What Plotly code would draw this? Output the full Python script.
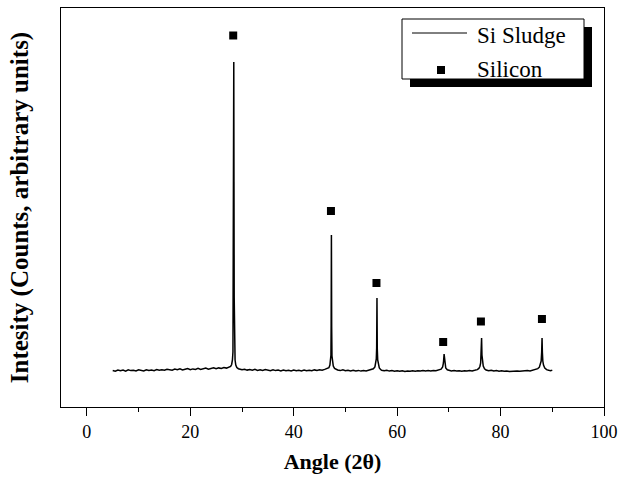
import plotly.graph_objects as go

# ---------------- data ----------------
angle = [
    5.0, 5.5, 6.0, 6.5, 7.0, 7.5, 8.0, 8.5, 9.0, 9.5, 10.0, 10.5, 11.0, 11.5, 12.0, 12.5,
    13.0, 13.5, 14.0, 14.5, 15.0, 15.5, 16.0, 16.5, 17.0, 17.5, 18.0, 18.5, 19.0, 19.5,
    20.0, 20.5, 21.0, 21.5, 22.0, 22.5, 23.0, 23.5, 24.0, 24.5, 25.0, 25.5, 26.0, 26.5,
    27.0, 27.5, 27.8,
    28.0, 28.15, 28.25, 28.3, 28.34, 28.37, 28.41, 28.45, 28.49, 28.56, 28.66, 28.8, 29.0, 29.3,
    29.5, 30.0, 30.5, 31.0, 31.5, 32.0, 32.5, 33.0, 33.5, 34.0, 34.5, 35.0, 35.5, 36.0,
    36.5, 37.0, 37.5, 38.0, 38.5, 39.0, 39.5, 40.0, 40.5, 41.0, 41.5, 42.0, 42.5, 43.0,
    43.5, 44.0, 44.5, 45.0, 45.5, 46.0, 46.5, 46.8,
    47.0, 47.12, 47.2, 47.24, 47.29, 47.34, 47.4, 47.5, 47.65, 47.9, 48.2,
    48.5, 49.0, 49.5, 50.0, 50.5, 51.0, 51.5, 52.0, 52.5, 53.0, 53.5, 54.0, 54.5, 55.0,
    55.4, 55.7,
    55.85, 55.97, 56.04, 56.1, 56.16, 56.24, 56.35, 56.55, 56.8,
    57.0, 57.5, 58.0, 58.5, 59.0, 59.5, 60.0, 60.5, 61.0, 61.5, 62.0, 62.5, 63.0, 63.5,
    64.0, 64.5, 65.0, 65.5, 66.0, 66.5, 67.0, 67.5, 68.0, 68.5,
    68.8, 68.95, 69.08, 69.15, 69.25, 69.4, 69.7,
    70.0, 70.5, 71.0, 71.5, 72.0, 72.5, 73.0, 73.5, 74.0, 74.5, 75.0, 75.5, 75.8,
    76.0, 76.15, 76.25, 76.33, 76.4, 76.5, 76.65, 76.9,
    77.2, 77.7, 78.2, 78.7, 79.2, 79.7, 80.2, 80.7, 81.2, 81.7, 82.2, 82.7, 83.2, 83.7,
    84.2, 84.7, 85.2, 85.7, 86.2, 86.7, 87.2, 87.5,
    87.7, 87.85, 87.95, 88.02, 88.08, 88.17, 88.3, 88.55, 88.9,
    89.3, 89.7, 90.0,
]
intensity = [
    36.5, 35.8, 37.0, 36.2, 36.9, 35.9, 37.1, 36.4, 36.8, 36.0, 37.2, 36.5, 36.1, 37.3, 36.6, 37.0,
    36.3, 37.4, 36.8, 37.2, 36.7, 37.8, 37.0, 36.8, 37.9, 37.3, 38.2, 37.0, 37.7, 38.4,
    37.3, 38.1, 37.6, 38.7, 37.6, 38.4, 39.0, 37.9, 38.6, 39.3, 38.2, 39.1, 38.5, 39.5,
    38.9, 39.7, 40.6,
    42.5, 47.0, 55.0, 120.0, 172.0, 227.0, 345.0, 225.0, 110.0, 57.0, 47.0, 42.0, 39.5, 38.3,
    37.9, 37.2, 37.8, 36.9, 37.5, 36.8, 37.6, 36.6, 37.3, 36.5, 37.4, 36.7, 36.2, 37.1,
    36.4, 36.9, 36.1, 37.0, 36.3, 36.8, 36.0, 36.9, 36.2, 36.7, 36.1, 37.0, 36.3, 36.8,
    36.2, 37.1, 36.5, 37.2, 36.8, 37.6, 38.2, 39.3,
    42.0, 47.0, 52.0, 82.0, 172.0, 80.0, 51.0, 45.0, 41.0, 38.6, 37.5,
    37.0, 36.4, 37.1, 36.2, 36.8, 36.0, 36.7, 36.1, 36.6, 35.9, 36.5, 36.0, 36.8, 37.1,
    38.2, 40.0,
    43.0, 48.0, 59.0, 109.0, 58.0, 47.0, 42.0, 39.0, 37.5,
    36.8, 36.2, 36.7, 35.9, 36.4, 35.8, 36.3, 35.7, 36.2, 35.6, 36.1, 35.7, 36.2, 35.8,
    36.3, 35.9, 36.4, 36.0, 36.5, 36.1, 36.6, 36.3, 36.9, 37.8,
    40.0, 44.0, 53.0, 48.0, 42.0, 39.0, 37.2,
    36.6, 36.0, 36.4, 35.9, 36.3, 35.8, 36.2, 35.9, 36.4, 36.1, 36.7, 37.4, 38.6,
    40.5, 44.0, 52.0, 69.0, 52.0, 45.0, 41.0, 38.2,
    37.0, 36.3, 36.7, 36.0, 36.4, 35.8, 36.2, 35.7, 36.1, 35.6, 36.0, 35.7, 36.1, 35.8,
    36.2, 35.9, 36.4, 36.1, 36.7, 37.3, 38.4, 39.8,
    42.5, 46.0, 55.0, 69.0, 55.0, 46.0, 42.0, 39.0, 37.4,
    36.8, 36.3, 36.9,
]

silicon_angle = [28.3, 47.2, 56.0, 68.9, 76.2, 88.0]
silicon_mark = [371.5, 196.0, 124.0, 65.0, 85.5, 88.0]

x_ticks = [0, 20, 40, 60, 80, 100]
x_title = "Angle (2θ)"
y_title = "Intesity (Counts, arbitrary units)"
legend_labels = ["Si Sludge", "Silicon"]

# ---------------- layout geometry (pixels) ----------------
W, H = 631, 481
L, R, T, B = 61, 604, 8, 407
FONT = "Liberation Serif"


def px(x):
    return (x - L) / (R - L)


def py(y):
    return (B - y) / (B - T)


fig = go.Figure()
fig.add_trace(go.Scatter(x=angle, y=intensity, mode="lines",
                         line=dict(color="black", width=1.5),
                         name=legend_labels[0], showlegend=False))
fig.add_trace(go.Scatter(x=silicon_angle, y=silicon_mark, mode="markers",
                         marker=dict(symbol="square", size=8, color="black"),
                         name=legend_labels[1], showlegend=False))

shapes = [
    # legend shadow
    dict(type="rect", xref="paper", yref="paper", x0=px(410), x1=px(592),
         y0=py(87), y1=py(27), fillcolor="black", line=dict(width=0)),
    # legend box
    dict(type="rect", xref="paper", yref="paper", x0=px(402), x1=px(584),
         y0=py(79), y1=py(19), fillcolor="white", line=dict(color="black", width=1)),
    # legend line sample
    dict(type="line", xref="paper", yref="paper", x0=px(412), x1=px(467),
         y0=py(33), y1=py(33), line=dict(color="black", width=1)),
    # legend marker sample
    dict(type="rect", xref="paper", yref="paper", x0=px(437), x1=px(445),
         y0=py(74), y1=py(66), fillcolor="black", line=dict(width=0)),
]
annotations = [
    dict(text=legend_labels[0], xref="paper", yref="paper", x=px(475), y=py(35),
         xanchor="left", yanchor="middle", showarrow=False,
         font=dict(family=FONT, size=23, color="black")),
    dict(text=legend_labels[1], xref="paper", yref="paper", x=px(475), y=py(69),
         xanchor="left", yanchor="middle", showarrow=False,
         font=dict(family=FONT, size=23, color="black")),
]

fig.update_layout(
    width=W, height=H,
    margin=dict(l=L, r=W - R, t=T, b=H - B, pad=0),
    paper_bgcolor="white", plot_bgcolor="white",
    showlegend=False,
    shapes=shapes, annotations=annotations,
    font=dict(family=FONT, color="black"),
)
fig.update_xaxes(
    range=[-5, 100], tickvals=x_ticks, ticks="outside", ticklen=8, tickwidth=1,
    tickcolor="black", minor=dict(dtick=10, tick0=0, ticks="outside", ticklen=4,
                                  tickcolor="black", tickwidth=1),
    showline=True, linecolor="black", linewidth=1, mirror=True,
    showgrid=False, zeroline=False,
    tickfont=dict(family=FONT, size=18, color="black"),
    title=dict(text=x_title, standoff=13,
               font=dict(family=FONT, size=22, color="black", weight="bold")),
    automargin=False,
)
fig.update_yaxes(
    range=[0, 399], showticklabels=False, ticks="",
    showline=True, linecolor="black", linewidth=1, mirror=True,
    showgrid=False, zeroline=False,
    title=dict(text=y_title, standoff=24,
               font=dict(family=FONT, size=25, color="black", weight="bold")),
    automargin=False,
)

fig.write_html("out.html")
